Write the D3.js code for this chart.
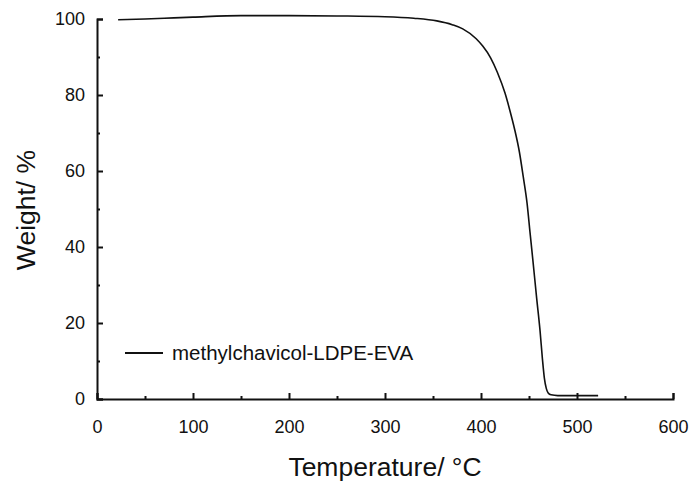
<!DOCTYPE html>
<html><head><meta charset="utf-8">
<script src="https://cdn.jsdelivr.net/npm/d3@7"></script>
<style>body{margin:0;background:#fff}svg{display:block}text{font-family:Arial,"Liberation Sans",sans-serif;fill:#111}</style>
</head><body><svg id="c" width="693" height="485"></svg>
<script>
const temperature = [22,50,80,100,150,200,250,300,330,354,370,381,395,402,410,417,425,430,435,440,444,448,451,454,458,461.5,464,466,468,470,473,480,500,522];
const weight = [99.8,100.0,100.3,100.5,100.9,100.9,100.8,100.6,100.2,99.5,98.5,97.4,94.8,92.8,89.8,86,80.5,76,71,65,58.5,51.5,44,36.6,26.5,18,10.5,5.5,2.8,1.6,1.1,0.9,0.9,0.9];
const xTicks = [0,100,200,300,400,500,600];
const yTicks = [0,20,40,60,80,100];
const seriesName = "methylchavicol-LDPE-EVA";
const xTitle = "Temperature/ °C";
const yTitle = "Weight/ %";

const svg = d3.select("#c");
const x = d3.scaleLinear().domain([0,600]).range([97,673]);
const y = d3.scaleLinear().domain([0,100]).range([399,19]);

// axes
const xAxis = d3.axisBottom(x).tickValues(xTicks).tickSize(-6).tickPadding(18);
const gx = svg.append("g").attr("transform","translate(0,399)").call(xAxis);
gx.selectAll(".tick text").attr("font-size",18).attr("dy","0.9em");
const xMinor = d3.axisBottom(x).tickValues(d3.range(50,600,100)).tickSize(-3).tickFormat("");
svg.append("g").attr("transform","translate(0,399)").call(xMinor).select(".domain").remove();

const yAxis = d3.axisLeft(y).tickValues(yTicks).tickSize(-6).tickPadding(12);
const gy = svg.append("g").attr("transform","translate(97,0)").call(yAxis);
gy.selectAll(".tick text").attr("font-size",18);
const yMinor = d3.axisLeft(y).tickValues(d3.range(10,100,20)).tickSize(-3).tickFormat("");
svg.append("g").attr("transform","translate(97,0)").call(yMinor).select(".domain").remove();

svg.selectAll(".domain").attr("stroke","#111").attr("stroke-width",2);
svg.selectAll(".tick line").attr("stroke","#111").attr("stroke-width",2);

// curve
const line = d3.line().x((d,i)=>x(temperature[i])).y(d=>y(d)).curve(d3.curveMonotoneX);
svg.append("path").datum(weight).attr("d",line).attr("fill","none").attr("stroke","#111").attr("stroke-width",1.6);

// legend
svg.append("line").attr("x1",125).attr("x2",163).attr("y1",353).attr("y2",353).attr("stroke","#111").attr("stroke-width",2);
svg.append("text").attr("x",172).attr("y",360).attr("font-size",20.5).text(seriesName);

// titles
svg.append("text").attr("x",385).attr("y",476).attr("text-anchor","middle").attr("font-size",26.5).text(xTitle);
svg.append("text").attr("transform","translate(35,210) rotate(-90)").attr("text-anchor","middle").attr("font-size",26.5).text(yTitle);
</script></body></html>
